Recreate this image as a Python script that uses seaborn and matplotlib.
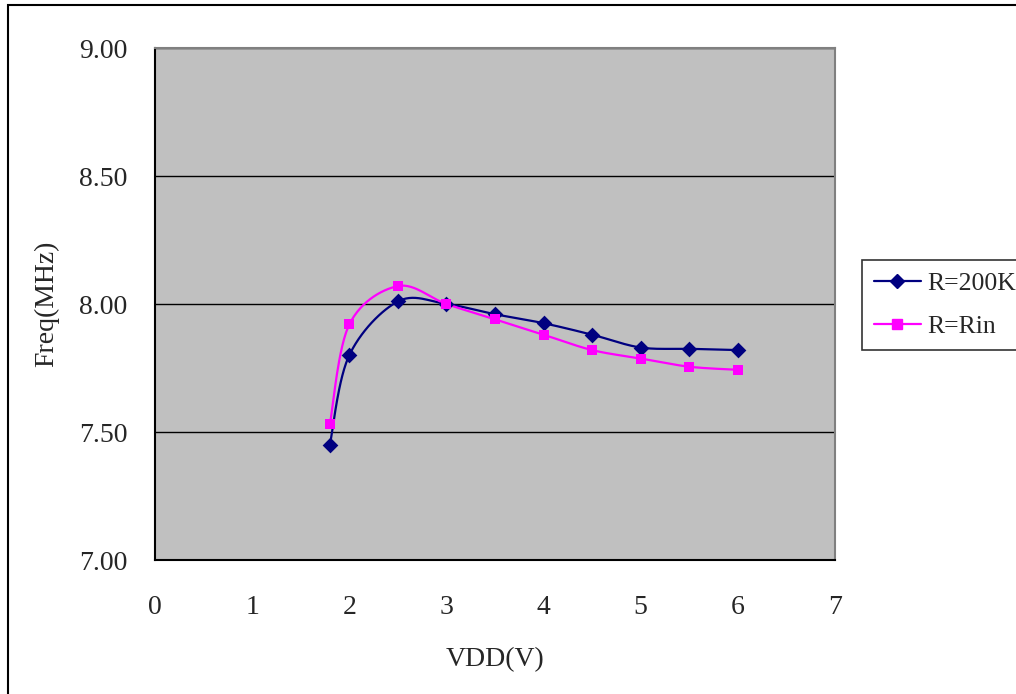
import numpy as np
import pandas as pd
import seaborn as sns
from matplotlib import pyplot as plt
from matplotlib.lines import Line2D
from matplotlib.patches import Rectangle

# 数据
vdd = [1.8, 2.0, 2.5, 3.0, 3.5, 4.0, 4.5, 5.0, 5.5, 6.0]
freq_200k = [7.45, 7.80, 8.01, 8.00, 7.96, 7.925, 7.88, 7.83, 7.825, 7.82]
freq_rin = [7.53, 7.92, 8.07, 8.00, 7.94, 7.88, 7.82, 7.787, 7.755, 7.743]
series_names = ["R=200K", "R=Rin"]
x_ticks = [0, 1, 2, 3, 4, 5, 6, 7]
y_ticks = [7.00, 7.50, 8.00, 8.50, 9.00]

NAVY = "#000080"
MAGENTA = "#FF00FF"

sns.set_style("white")
plt.rcParams['font.family'] = ['Liberation Serif', 'DejaVu Serif']
plt.rcParams['font.size'] = 20


def smooth_path(xs, ys, steps=30):
    # Excel 式平滑线：Catmull-Rom 曲线，仅用于画线形
    pts = np.column_stack([xs, ys])
    pts = np.vstack([pts[0], pts, pts[-1]])
    out = []
    for i in range(1, len(pts) - 2):
        p0, p1, p2, p3 = pts[i - 1], pts[i], pts[i + 1], pts[i + 2]
        t = np.linspace(0, 1, steps, endpoint=False)[:, None]
        c = 0.5 * ((2 * p1) + (-p0 + p2) * t + (2 * p0 - 5 * p1 + 4 * p2 - p3) * t ** 2
                   + (-p0 + 3 * p1 - 3 * p2 + p3) * t ** 3)
        out.append(c)
    out.append(pts[-2][None, :])
    out = np.vstack(out)
    return out[:, 0], out[:, 1]


fig = plt.figure(figsize=(10.16, 6.94), dpi=100)
ax = fig.add_axes([155 / 1016, 1 - 560 / 694, 680 / 1016, 512 / 694])
ax.set_facecolor("#C0C0C0")

for ys, color, marker, ms in [(freq_200k, NAVY, "D", 64), (freq_rin, MAGENTA, "s", 60)]:
    sx, sy = smooth_path(vdd, ys)
    sns.lineplot(x=sx, y=sy, sort=False, color=color, linewidth=1.6, ax=ax, zorder=3)
    sns.scatterplot(x=vdd, y=ys, color=color, marker=marker, s=ms, edgecolor=color,
                    linewidth=0, ax=ax, zorder=4)

ax.set_xlim(0, 7)
ax.set_ylim(7.0, 9.0)
ax.set_xticks(x_ticks)
ax.set_yticks(y_ticks)
ax.set_yticklabels([f"{v:.2f}" for v in y_ticks])
ax.yaxis.grid(True, color="black", linewidth=1)
ax.set_axisbelow(True)
ax.tick_params(axis="x", direction="in", length=7, width=1, color="black", pad=25, labelsize=20)
ax.tick_params(axis="y", direction="in", length=0, pad=20, labelsize=20)

for side in ["left", "bottom"]:
    ax.spines[side].set_color("black")
    ax.spines[side].set_linewidth(1.5)
for side in ["top", "right"]:
    ax.spines[side].set_color("#808080")
    ax.spines[side].set_linewidth(1.5)
    ax.spines[side].set_visible(True)

ax.set_xlabel("VDD(V)", fontsize=20, labelpad=20)
ax.set_ylabel("Freq(MHz)", fontsize=20, labelpad=14)

handles = [
    Line2D([], [], color=NAVY, marker="D", markersize=7.5, linewidth=1.6),
    Line2D([], [], color=MAGENTA, marker="s", markersize=7.5, linewidth=1.6),
]
leg = fig.legend(handles, series_names, loc="upper left",
                 bbox_to_anchor=(862 / 1016, 1 - 260 / 694), frameon=True,
                 fancybox=False, fontsize=18.5, handlelength=1.85, handletextpad=0.25,
                 borderpad=0.45, labelspacing=0.8, borderaxespad=0)
leg.get_frame().set_edgecolor("black")
leg.get_frame().set_linewidth(1.2)

# 外框
fig.patches.append(Rectangle((8 / 1016, -0.1), 1.2, 1.1 - 5 / 694,
                             transform=fig.transFigure, fill=False,
                             edgecolor="black", linewidth=1.5))

fig.savefig("out.png", dpi=100)
